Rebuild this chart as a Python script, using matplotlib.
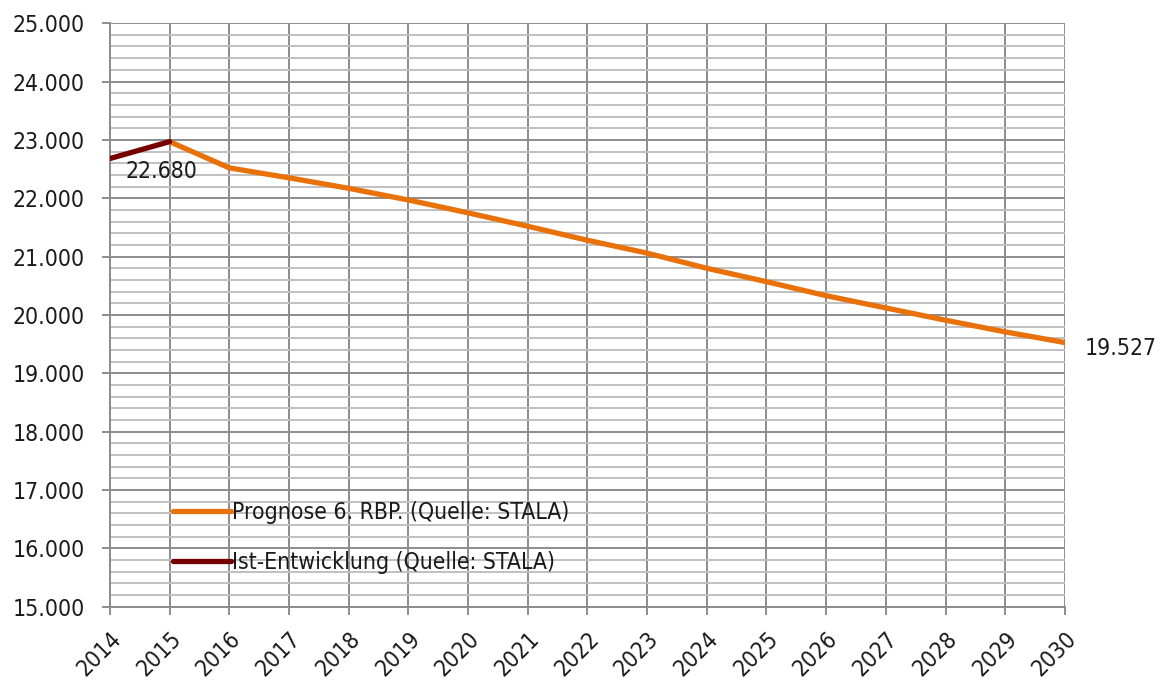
import matplotlib
matplotlib.use("Agg")
import matplotlib.pyplot as plt
from matplotlib.ticker import MultipleLocator, FuncFormatter

plt.rcParams["font.family"] = ["DejaVu Sans"]
plt.rcParams["font.stretch"] = "condensed"

# Population series
years_ist = [2014, 2015]
values_ist = [22680, 22970]

years_prog = list(range(2015, 2031))
values_prog = [22970, 22520, 22350, 22170, 21970, 21750, 21520, 21280,
               21060, 20800, 20570, 20330, 20120, 19910, 19710, 19527]

label_prog = "Prognose 6. RBP. (Quelle: STALA)"
label_ist = "Ist-Entwicklung (Quelle: STALA)"

FS = 16.5
TEXT = "#1a1a1a"

fig = plt.figure(figsize=(11.69, 6.81), dpi=100)
ax = fig.add_axes([0.094, 0.109, 0.817, 0.857])

prog_line, = ax.plot(years_prog, values_prog, color="#E8710A", lw=3.8,
                     solid_capstyle="round", zorder=3)
ist_line, = ax.plot(years_ist, values_ist, color="#760000", lw=3.8,
                    solid_capstyle="round", zorder=4)

ax.set_xlim(2014, 2030)
ax.set_ylim(15000, 25000)
ax.xaxis.set_major_locator(MultipleLocator(1))
ax.yaxis.set_major_locator(MultipleLocator(1000))
ax.yaxis.set_minor_locator(MultipleLocator(200))
ax.yaxis.set_major_formatter(FuncFormatter(lambda v, p: f"{int(v):,}".replace(",", ".")))

ax.grid(which="major", axis="both", color="#8c8c8c", lw=1.4, zorder=1)
ax.grid(which="minor", axis="y", color="#c0c0c0", lw=1.4, zorder=0)

for s in ["top", "right"]:
    ax.spines[s].set_visible(False)
for s in ["left", "bottom"]:
    ax.spines[s].set_color("#8c8c8c")
    ax.spines[s].set_linewidth(1.4)

ax.tick_params(axis="both", which="major", color="#8c8c8c", width=1.4,
               length=6, labelsize=FS, labelcolor=TEXT)
ax.tick_params(axis="y", which="minor", length=0)
ax.tick_params(axis="y", pad=12)
ax.tick_params(axis="x", pad=9)
for lbl in ax.get_xticklabels():
    lbl.set_rotation(45)
    lbl.set_ha("right")
    lbl.set_va("top")
    lbl.set_rotation_mode("anchor")

ax.annotate(f"{values_ist[0]:,}".replace(",", "."), xy=(years_ist[0], values_ist[0]),
            xytext=(11, -9.5), textcoords="offset points", fontsize=FS,
            color=TEXT, va="center", ha="left", annotation_clip=False)
ax.annotate(f"{values_prog[-1]:,}".replace(",", "."), xy=(years_prog[-1], values_prog[-1]),
            xytext=(14, -4.5), textcoords="offset points", fontsize=FS,
            color=TEXT, va="center", ha="left", annotation_clip=False)

leg = ax.legend([prog_line, ist_line], [label_prog, label_ist],
                loc="lower left", bbox_to_anchor=(0.045, 0.02),
                frameon=False, fontsize=FS, handlelength=2.5,
                handletextpad=0.05, labelspacing=1.2, labelcolor=TEXT)

fig.savefig("out.png", dpi=100)
